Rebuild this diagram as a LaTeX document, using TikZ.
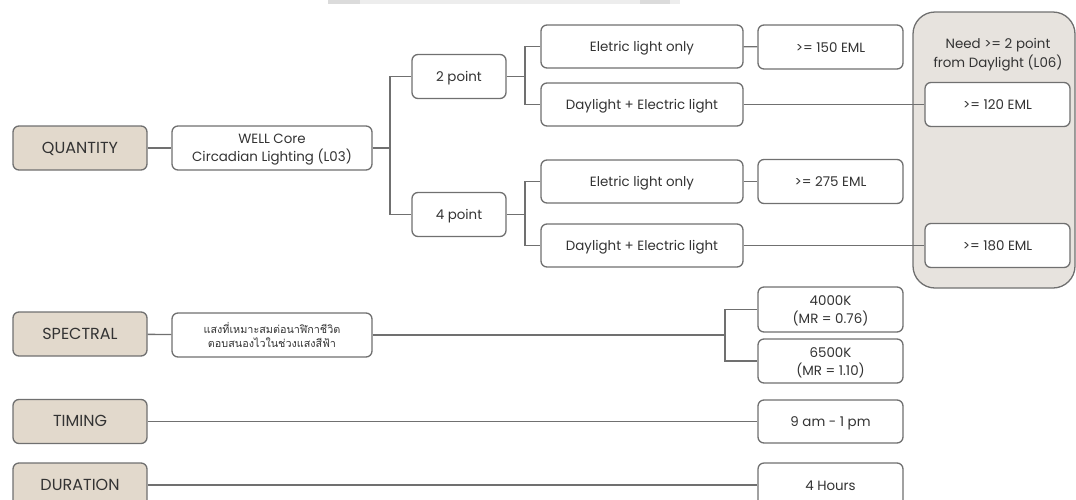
\documentclass[tikz,border=0pt]{standalone}
\usepackage{fontspec}
\setmainfont{Poppins}
\newfontfamily\thaifont[Script=Thai]{Loma}
\definecolor{linec}{HTML}{707070}
\definecolor{beige}{HTML}{E2D9CC}
\definecolor{panelc}{HTML}{E7E3DE}
\definecolor{txt}{HTML}{333333}
\newcommand\bstr{\rule{0pt}{13.5pt}}
\newcommand\estr{\rule[-3.5pt]{0pt}{3.5pt}}
\begin{document}
\begin{tikzpicture}[x=1pt,y=-1pt,
  every node/.style={text=txt},
  bx/.style={draw=linec,line width=1.3pt,rounded corners=6pt,fill=white,
    minimum height=44pt,inner sep=0pt,align=center,
    font=\fontsize{13.4}{18}\selectfont},
  cat/.style={bx,fill=beige,minimum width=134pt,font=\fontsize{16}{18}\selectfont},
  wide/.style={bx,minimum width=200pt},
  pt/.style={bx,minimum width=94pt},
  mid/.style={bx,minimum width=202pt,minimum height=43pt},
  res/.style={bx,minimum width=145pt},
  conn/.style={draw=linec,line width=1.3pt}]
\useasboundingbox (0,0) rectangle (1076,499);
\clip (0,0) rectangle (1076,499);
\fill[black!7] (328,0) rectangle (680,4);
\fill[black!14] (328,0) rectangle (360,4);
\fill[black!14] (640,0) rectangle (670,4);
% grey panel
\node[draw=linec,line width=1.3pt,fill=panelc,rounded corners=22pt,
  minimum width=162pt,minimum height=276pt,inner sep=0pt] (panel) at (994,150) {};
\node[font=\fontsize{13.4}{19}\selectfont,align=center] (paneltxt) at (998,54.5) {Need >= 2 point\\from Daylight (L06)};
% quantity
\node[cat] (qty) at (80,148) {\bstr QUANTITY\estr};
\node[wide] (well) at (272,148) {\bstr WELL Core\\Circadian Lighting (L03)\estr};
\node[pt] (p2) at (459,76.5) {\bstr 2 point\estr};
\node[pt] (p4) at (459,214.5) {\bstr 4 point\estr};
\node[mid] (e2) at (642,46.5) {\bstr Eletric light only\estr};
\node[mid] (d2) at (642,104.5) {\bstr Daylight + Electric light\estr};
\node[mid] (e4) at (642,181.5) {\bstr Eletric light only\estr};
\node[mid] (d4) at (642,245.5) {\bstr Daylight + Electric light\estr};
\node[res] (m150) at (830.5,47) {\bstr >= 150 EML\estr};
\node[res] (m120) at (997.5,104.5) {\bstr >= 120 EML\estr};
\node[res] (m275) at (830.5,181.5) {\bstr >= 275 EML\estr};
\node[res] (m180) at (997.5,245.5) {\bstr >= 180 EML\estr};
% spectral
\node[cat] (spec) at (80,334) {\bstr SPECTRAL\estr};
\node[wide,font=\thaifont\fontsize{10.8}{14}\selectfont] (thai) at (272,335) {แสงที่เหมาะสมต่อนาฬิกาชีวิต\\ตอบสนองไวในช่วงแสงสีฟ้า};
\node[res,minimum height=45pt] (k40) at (830.5,309.5) {\bstr 4000K\\(MR = 0.76)\estr};
\node[res] (k65) at (830.5,361) {\bstr 6500K\\(MR = 1.10)\estr};
% timing / duration
\node[cat] (tim) at (80,421.5) {\bstr TIMING\estr};
\node[res,minimum height=43pt] (t9) at (830.5,421.5) {\bstr 9 am - 1 pm\estr};
\node[cat] (dur) at (80,485) {\bstr DURATION\estr};
\node[res] (h4) at (830.5,485) {\bstr 4 Hours\estr};
% connectors
\draw[conn] (qty) -- (well);
\coordinate (j1) at (390,148);
\draw[conn] (well) -- (j1);
\draw[conn] (p2.west) -| (j1) |- (p4.west);
\coordinate (j2) at (525,76.5);
\draw[conn] (p2) -- (j2);
\draw[conn] (e2.west) -| (j2) |- (d2.west);
\coordinate (j3) at (525,214.5);
\draw[conn] (p4) -- (j3);
\draw[conn] (e4.west) -| (j3) |- (d4.west);
\draw[conn] (e2) -- (m150);
\draw[conn] (d2) -- (m120);
\draw[conn] (e4) -- (m275);
\draw[conn] (d4) -- (m180);
\draw[conn] (spec) -- (thai);
\coordinate (j4) at (725,335);
\draw[conn] (thai) -- (j4);
\draw[conn] (k40.west) -| (j4) |- (k65.west);
\draw[conn] (tim) -- (t9);
\draw[conn] (dur) -- (h4);
\end{tikzpicture}
\end{document}
